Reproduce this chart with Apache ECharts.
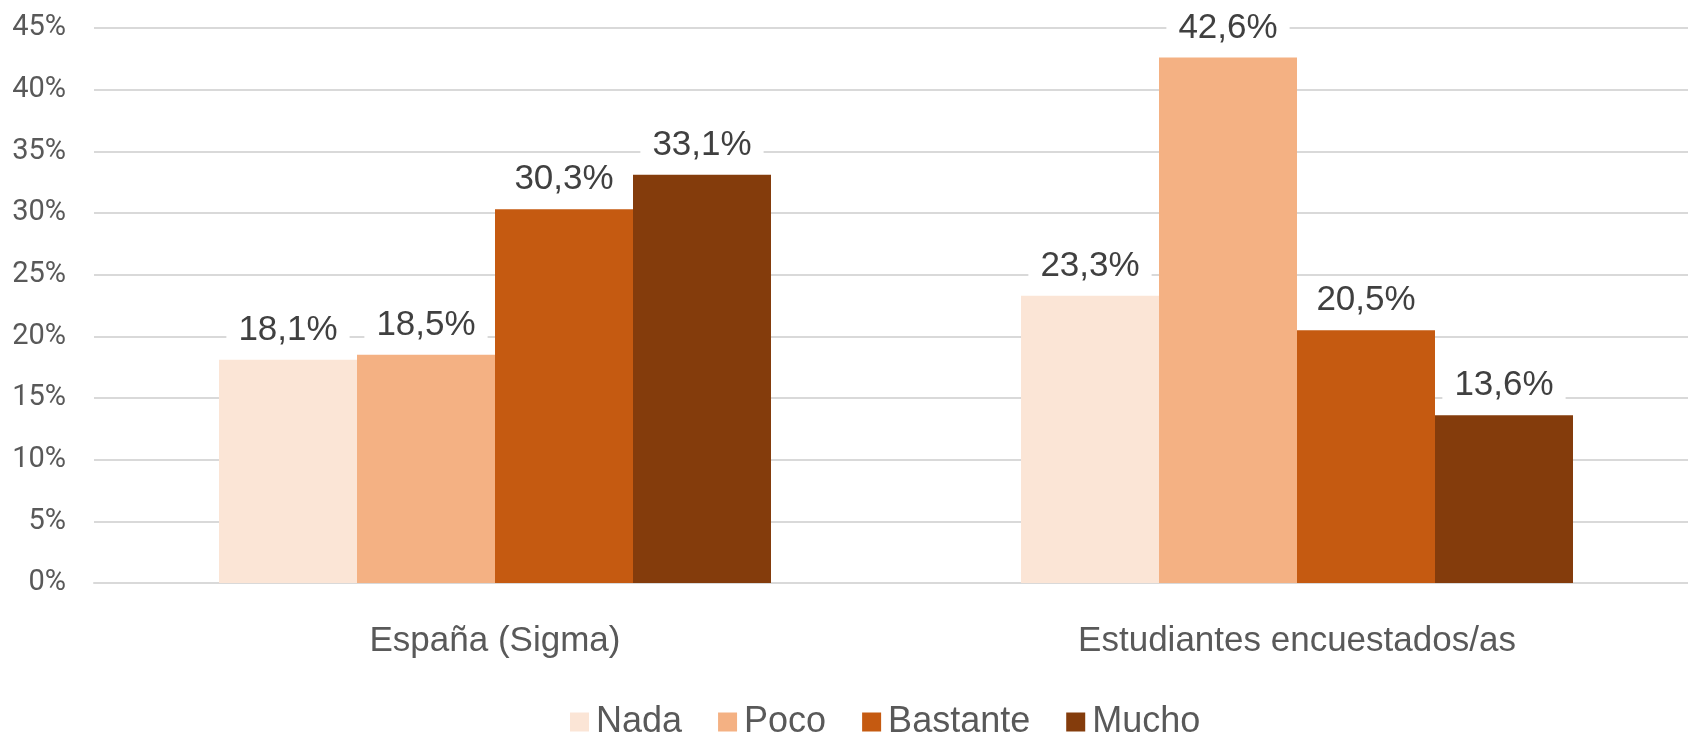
<!DOCTYPE html>
<html>
<head>
<meta charset="utf-8">
<script src="https://cdn.jsdelivr.net/npm/echarts@6/dist/echarts.min.js"></script>
<style>
  html, body { margin: 0; padding: 0; background: #fff; }
  #chart { width: 1688px; height: 737px; }
</style>
</head>
<body>
<div id="chart"></div>
<script>
// categorías y valores (%)
const categories = ["España (Sigma)", "Estudiantes encuestados/as"];
const nada = [18.1, 23.3];
const poco = [18.5, 42.6];
const bastante = [30.3, 20.5];
const mucho = [33.1, 13.6];
const seriesNames = ["Nada", "Poco", "Bastante", "Mucho"];
const colors = ["#FBE5D6", "#F4B183", "#C55A11", "#843C0C"];

let myChart = echarts.init(document.getElementById("chart"));

function makeSeries(name, data, color) {
  return {
    name: name,
    type: "bar",
    data: data,
    barWidth: 138,
    barGap: "0%",
    itemStyle: { color: color },
    label: {
      show: true,
      position: "top",
      distance: 10,
      color: "#404040",
      fontSize: 35,
      fontFamily: "Liberation Sans",
      backgroundColor: "#fff",
      padding: [2, 12, 2, 12],
      formatter: (p) => p.value.toFixed(1).replace(".", ",") + "%",
    },
  };
}

let option = {
  animation: false,
  color: colors,
  grid: { left: 94, width: 1604, top: 28, bottom: 154, outerBoundsMode: "none" },
  legend: {
    data: seriesNames,
    left: 565,
    top: 699,
    icon: "rect",
    itemWidth: 19,
    itemHeight: 19,
    itemGap: 36,
    textStyle: { color: "#595959", fontSize: 36, fontFamily: "Liberation Sans", padding: [0, 0, 0, 2] },
  },
  xAxis: {
    type: "category",
    data: categories,
    axisTick: { show: false },
    axisLine: { lineStyle: { color: "#D9D9D9", width: 2 } },
    axisLabel: { color: "#595959", fontSize: 35, fontFamily: "Liberation Sans", margin: 41 },
  },
  yAxis: {
    type: "value",
    min: 0,
    max: 45,
    interval: 5,
    axisLine: { show: false },
    axisTick: { show: false },
    splitLine: { lineStyle: { color: "#D9D9D9", width: 2 } },
    axisLabel: {
      color: "#595959",
      fontSize: 29,
      fontFamily: "Roboto",
      margin: 28,
      formatter: "{value}%",
    },
  },
  series: [
    makeSeries(seriesNames[0], nada, colors[0]),
    makeSeries(seriesNames[1], poco, colors[1]),
    makeSeries(seriesNames[2], bastante, colors[2]),
    makeSeries(seriesNames[3], mucho, colors[3]),
  ],
};

myChart.setOption(option);
</script>
</body>
</html>
